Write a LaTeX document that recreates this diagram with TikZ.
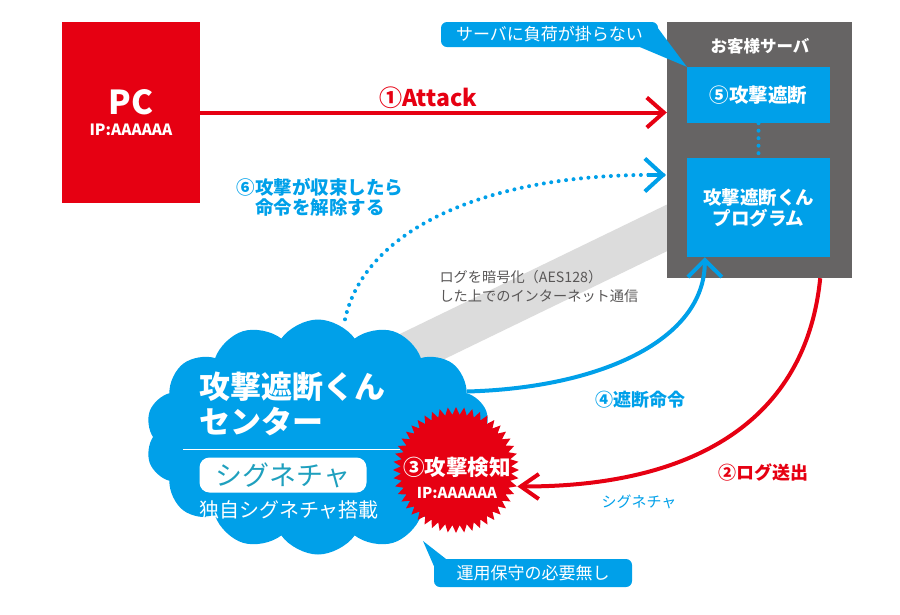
\documentclass[tikz,border=0pt]{standalone}
\usepackage{fontspec}
\setmainfont{Noto Sans CJK JP}
\usetikzlibrary{arrows.meta,shapes.geometric,shapes.symbols,backgrounds}
\definecolor{atkred}{HTML}{E60012}
\definecolor{kunblue}{HTML}{00A0E9}
\definecolor{srvgray}{HTML}{666464}
\definecolor{bandgray}{HTML}{DCDCDC}
\definecolor{logtext}{HTML}{595757}
\definecolor{sigteal}{HTML}{1FA0BE}

\begin{document}
\begin{tikzpicture}[x=1pt, y=-1pt,
  pcbox/.style={fill=atkred, text=white, align=center, minimum width=138pt, minimum height=181pt, inner sep=0},
  serverbox/.style={fill=srvgray, minimum width=185pt, minimum height=256pt, inner sep=0},
  innerbox/.style={fill=kunblue, text=white, font=\bfseries\fontsize{18.5}{21}\selectfont, align=center, minimum width=143pt, inner sep=0},
  callout/.style={fill=kunblue, text=white, rounded corners=6pt, font=\fontsize{17}{20}\selectfont, inner sep=0},
  lbl/.style={font=\bfseries\fontsize{18}{21}\selectfont, align=center},
  redarrow/.style={atkred, line width=4pt, -{Straight Barb[length=17pt,width=30pt]}},
  bluearrow/.style={kunblue, line width=4pt, -{Straight Barb[length=17pt,width=34pt]}},
  dotarrow/.style={kunblue, line width=4pt, line cap=round, dash pattern=on 0pt off 7.5pt},
  band/.style={bandgray, line width=42pt}
]
\useasboundingbox (0,0) rectangle (900,614);

% left side: the attacking PC
\node[pcbox] (pc) at (131,112.5) {{\fontsize{33}{33}\selectfont\bfseries PC}\\[8pt]{\fontsize{15.5}{16}\selectfont\bfseries IP:AAAAAA}};

% customer server
\node[serverbox] (server) at (759.5,150) {};
\node[font=\bfseries\fontsize{16.5}{18}\selectfont, text=white] (servertitle) at (760,46) {お客様サーバ};
\node[innerbox, font=\bfseries\fontsize{19.5}{21}\selectfont, minimum height=56pt] (block) at (758.5,95) {⑤攻撃遮断};
\node[innerbox, minimum height=99pt] (prog) at (758.5,207.5) {攻撃遮断くん\\プログラム};
\draw[dotarrow, -] (block) -- (prog);

% center cloud
\node[cloud, fill=kunblue, cloud puffs=14, cloud puff arc=110, aspect=1.45,
      minimum width=345pt, minimum height=235pt, inner sep=0] (center) at (318,437) {};
\node[anchor=west, align=left, text=white, font=\bfseries\fontsize{31}{35}\selectfont] (centername) at (196,404) {攻撃遮断くん\\センター};
\draw[white, line width=0.8pt] (183,449) -- (400,449);
\node[fill=white, text=sigteal, rounded corners=10pt, minimum width=167pt, minimum height=35pt, inner sep=0,
      font=\fontsize{27}{27}\selectfont] (sigpill) at (283,475) {シグネチャ};
\node[text=white, font=\fontsize{20}{24}\selectfont] (sigown) at (289,510) {独自シグネチャ搭載};

% detection burst
\node[star, star points=48, star point ratio=1.14, fill=atkred, minimum size=126pt, inner sep=0] (detect) at (456,470) {};
\node[text=white, font=\bfseries\fontsize{21.5}{24}\selectfont] (detecttxt) at (457,467) {③攻撃検知};
\node[text=white, font=\bfseries\fontsize{15}{16}\selectfont] (detectip) at (457,493) {IP:AAAAAA};

% callouts
\node[callout, minimum width=217pt, minimum height=25pt] (nofuka) at (549.5,34.5) {サーバに負荷が掛らない};
\fill[kunblue] ([xshift=-18pt]nofuka.south east) -- ([yshift=6pt]nofuka.east) -- (block.north west) -- cycle;
\node[callout, minimum width=198pt, minimum height=28pt] (hoshu) at (533,573) {運用保守の必要無し};
\coordinate (hoshutip) at (423,541);
\fill[kunblue] (hoshutip) -- ([yshift=-7pt]hoshu.north west) -- ([xshift=12pt]hoshu.north west) -- cycle;

% connectors behind the nodes
\begin{pgfonlayer}{background}
\draw[band] ([yshift=40pt]center.center) -- ([yshift=-33pt]server.center);
\draw[dotarrow] ([xshift=27pt]center.north) .. controls (365,228) and (490,172) .. ([xshift=-2pt,yshift=-25pt]server.west);
\draw[kunblue, line width=4pt, -{Straight Barb[length=18pt,width=33pt]}] ([xshift=-20pt,yshift=-25pt]server.west) -- ([xshift=-1pt,yshift=-25pt]server.west);
\end{pgfonlayer}

% command, attack and log arrows
\draw[bluearrow] (center.17) .. controls (600,388) and (705,340) .. ([xshift=18pt]prog.south west);
\draw[redarrow] (pc) -- (pc -| server.west);
\draw[atkred, line width=4pt, -{Straight Barb[length=18pt,width=25pt]}] ([xshift=-32pt]server.south east) .. controls (805,430) and (680,487) .. (detect.-15);

% labels
\node[lbl, text=atkred, font=\bfseries\fontsize{23}{26}\selectfont] (attacklbl) at (428,98) {①Attack};
\node[lbl, text=kunblue, font=\bfseries\fontsize{18.5}{20}\selectfont] (releaselbl) at (320,197) {⑥攻撃が収束したら\\命令を解除する};
\node[lbl, text=kunblue] (blocklbl) at (640,400) {④遮断命令};
\node[lbl, text=atkred] (loglbl) at (763,472) {②ログ送出};
\node[text=kunblue, font=\fontsize{15}{16}\selectfont] (siglbl) at (639,502) {シグネチャ};
\node[anchor=north west, align=left, text=logtext, font=\fontsize{14.2}{19}\selectfont] (logmsg) at (436,267) {ログを暗号化（AES128）\\した上でのインターネット通信};
\end{tikzpicture}
\end{document}
